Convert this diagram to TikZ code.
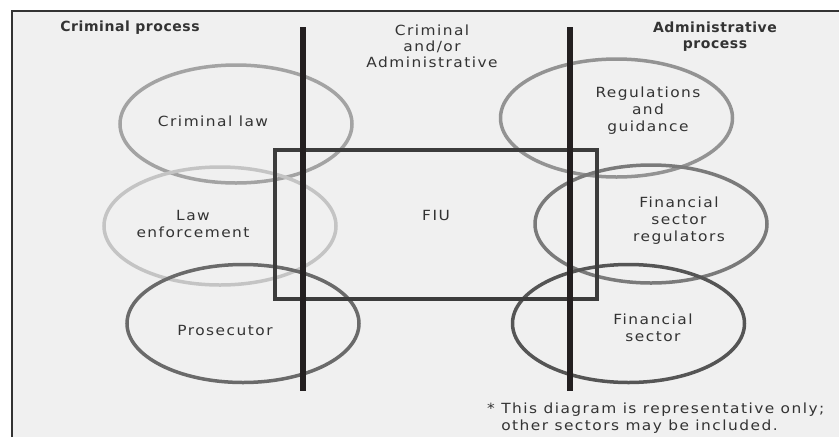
\documentclass[tikz,border=0pt]{standalone}
\usepackage{fontspec}
\setmainfont{DejaVu Sans}[LetterSpace=10.5, FakeStretch=1.1]
\newfontfamily\headfont{DejaVu Sans Bold}[LetterSpace=4]
\usetikzlibrary{shapes.geometric}
\definecolor{bg}{HTML}{F0F0F0}
\definecolor{framec}{HTML}{333333}
\definecolor{barc}{HTML}{231F20}
\definecolor{rectc}{HTML}{3C3C3C}
\definecolor{txt}{HTML}{333333}
\definecolor{elA}{HTML}{A3A3A3}
\definecolor{elB}{HTML}{C4C4C4}
\definecolor{elC}{HTML}{6A6A6A}
\definecolor{elD}{HTML}{939393}
\definecolor{elE}{HTML}{7A7A7A}
\definecolor{elF}{HTML}{555555}
\tikzset{
  lbl/.style={align=center, text=txt, font=\fontsize{14}{16.5}\selectfont, inner sep=0pt},
  head/.style={lbl, font=\headfont\fontsize{14}{16}\selectfont},
  ring/.style={line width=3.5pt},
  bar/.style={draw=barc, line width=6pt},
}
\begin{document}
\begin{tikzpicture}[x=1pt,y=-1pt]
\useasboundingbox (0,0) rectangle (839,437);
% background and frame
\fill[bg] (12,11) rectangle (839,437);
\draw[framec, line width=2.5pt] (12,437) -- (12,11) -- (839,11);
% ellipses
\draw[ring, elA] (236,124) ellipse [x radius=116, y radius=59];
\draw[ring, elB] (220,226) ellipse [x radius=116, y radius=59];
\draw[ring, elC] (243,323.5) ellipse [x radius=116, y radius=59];
\draw[ring, elD] (616.5,118) ellipse [x radius=116, y radius=59];
\draw[ring, elE] (651,224) ellipse [x radius=116, y radius=59];
\draw[ring, elF] (628.5,323.5) ellipse [x radius=116, y radius=59];
% FIU box
\node[draw=rectc, line width=4pt, minimum width=322pt, minimum height=149pt, inner sep=0pt] (fiu) at (436,224.5) {};
\node[lbl] (fiutext) at (436,215) {FIU};
% bars
\coordinate (l1) at (303,27); \coordinate (l2) at (303,391);
\coordinate (r1) at (570,27); \coordinate (r2) at (570,391);
\draw[bar] (l1) -- (l2);
\draw[bar] (r1) -- (r2);
% headings
\node[head] (crimproc) at (130,28) {Criminal process};
\node[lbl, font=\fontsize{14}{16}\selectfont] (both) at (432,46) {Criminal\\and/or\\Administrative};
\node[head] (adminproc) at (715,37) {Administrative\\process};
% labels
\node[lbl] (critext) at (213,121) {Criminal law};
\node[lbl] (lawtext) at (193,224) {Law\\enforcement};
\node[lbl] (prostext) at (225,330) {Prosecutor};
\node[lbl, font=\fontsize{14}{17}\selectfont] (regtext) at (648,111) {Regulations\\and\\guidance};
\node[lbl, font=\fontsize{14}{17}\selectfont] (fsrtext) at (679,221) {Financial\\sector\\regulators};
\node[lbl] (fstext) at (653,328) {Financial\\sector};
\node[lbl, align=left, anchor=north west] (note) at (487,403) {* This diagram is representative only;\\\hphantom{* }other sectors may be included.};
\end{tikzpicture}
\end{document}
